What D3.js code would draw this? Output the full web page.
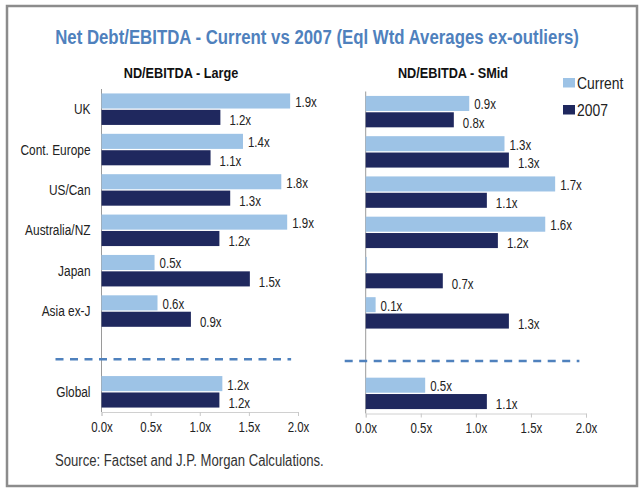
<!DOCTYPE html>
<html>
<head>
<meta charset="utf-8">
<script src="https://cdn.jsdelivr.net/npm/d3@7"></script>
<style>
  body { margin: 0; background: #fff; }
  text { font-family: "Liberation Sans", Arial, sans-serif; }
</style>
</head>
<body>
<div id="chart"></div>
<script>
// data
var categories = ["UK", "Cont. Europe", "US/Can", "Australia/NZ", "Japan", "Asia ex-J", "Global"];
var series = ["Current", "2007"];
var largeCurrent = [1.92, 1.44, 1.83, 1.89, 0.54, 0.57, 1.23];
var large2007    = [1.21, 1.11, 1.31, 1.20, 1.51, 0.91, 1.20];
var smidCurrent  = [0.94, 1.26, 1.72, 1.63, 0.01, 0.09, 0.54];
var smid2007     = [0.80, 1.30, 1.10, 1.20, 0.70, 1.30, 1.10];
var xTicks = [0, 0.5, 1, 1.5, 2];

var colors = { "Current": "#9dc3e6", "2007": "#1f285e" };
var width = 640, height = 490;
var narrow = 0.82; // no Arial Narrow here, so squeeze Liberation Sans

var svg = d3.select("#chart").append("svg")
  .attr("width", width)
  .attr("height", height);

// put a narrowed text at x,y
function ntext(parent, x, y) {
  return parent.append("text")
    .attr("transform", "translate(" + x + "," + y + ") scale(" + narrow + ",1)");
}

// frame
svg.append("rect")
  .attr("x", 7).attr("y", 6)
  .attr("width", 630).attr("height", 480)
  .attr("fill", "#fff")
  .attr("stroke", "#8c8c8c")
  .attr("stroke-width", 2.5);

ntext(svg, 317, 44)
  .attr("text-anchor", "middle")
  .style("font-size", "20.5px")
  .style("font-weight", "bold")
  .attr("fill", "#4f81bd")
  .text("Net Debt/EBITDA - Current vs 2007 (Eql Wtd Averages ex-outliers)");

// band keys with an empty slot before Global for the dashed separator
var bandKeys = categories.slice(0, 6).concat(["gap"], categories.slice(6));

function rows(cur, old) {
  return categories.map(function(c, i) {
    return { cat: c, values: [{ s: "Current", v: cur[i] }, { s: "2007", v: old[i] }] };
  });
}

var panels = [
  { title: "ND/EBITDA - Large", data: rows(largeCurrent, large2007),
    x0: 101.5, x1: 298, y0: 89, y1: 412, titleX: 181, labels: true, dashFrom: 46, dashTo: 1.93 },
  { title: "ND/EBITDA - SMid", data: rows(smidCurrent, smid2007),
    x0: 365.7, x1: 586, y0: 91.5, y1: 413.5, titleX: 453, labels: false, dashFrom: 21, dashTo: 1.94 }
];

var fmt = d3.format(".1f");

panels.forEach(function(p) {
  var x = d3.scaleLinear().domain([0, 2]).range([p.x0, p.x1]);
  var y = d3.scaleBand().domain(bandKeys).range([p.y0, p.y1])
    .paddingInner(0.22).paddingOuter(0.11);
  var ySub = d3.scaleBand().domain(series).range([0, y.bandwidth()]).paddingInner(0.08);

  var g = svg.append("g");

  ntext(g, p.titleX, 78)
    .attr("text-anchor", "middle")
    .style("font-size", "15.5px")
    .style("font-weight", "bold")
    .attr("fill", "#111")
    .text(p.title);

  // x axis: light baseline with small ticks
  var xAxis = g.append("g")
    .attr("transform", "translate(0," + p.y1 + ")")
    .call(d3.axisBottom(x).tickValues(xTicks).tickSize(4)
      .tickFormat(function(d) { return fmt(d) + "x"; }));
  xAxis.select(".domain").attr("stroke", "#d0d0d0");
  xAxis.selectAll(".tick line").attr("stroke", "#c8c8c8");
  xAxis.selectAll(".tick text")
    .attr("y", 0)
    .attr("dy", "0.35em")
    .attr("transform", "translate(0,15) scale(" + narrow + ",1)")
    .style("font-size", "14px")
    .style("font-family", "'Liberation Sans', Arial, sans-serif")
    .attr("fill", "#222");

  // y axis line
  g.append("line")
    .attr("x1", x(0)).attr("x2", x(0))
    .attr("y1", p.y0).attr("y2", p.y1)
    .attr("stroke", "#9a9a9a");

  if (p.labels) {
    categories.forEach(function(c) {
      ntext(g, x(0) - 11, y(c) + y.bandwidth() / 2)
        .attr("dy", "0.35em")
        .attr("text-anchor", "end")
        .style("font-size", "14.5px")
        .attr("fill", "#222")
        .text(c);
    });
  }

  var grp = g.selectAll(".grp")
    .data(p.data)
    .enter().append("g")
    .attr("transform", function(d) { return "translate(0," + y(d.cat) + ")"; });

  grp.selectAll("rect")
    .data(function(d) { return d.values; })
    .enter().append("rect")
    .attr("x", x(0))
    .attr("y", function(d) { return ySub(d.s); })
    .attr("width", function(d) { return x(d.v) - x(0); })
    .attr("height", ySub.bandwidth())
    .attr("fill", function(d) { return colors[d.s]; });

  grp.selectAll(".lbl")
    .data(function(d) { return d.values.filter(function(e) { return e.v >= 0.05; }); })
    .enter().append("text")
    .attr("transform", function(d) {
      var lx = x(d.v) + (d.s == "Current" ? 5 : 9);
      var ly = ySub(d.s) + ySub.bandwidth() / 2 + (d.s == "Current" ? 1 : 3);
      return "translate(" + lx + "," + ly + ") scale(" + narrow + ",1)";
    })
    .attr("dy", "0.35em")
    .style("font-size", "14px")
    .attr("fill", "#222")
    .text(function(d) { return fmt(d.v) + "x"; });

  // dashed separator above Global
  var dy = y("gap") + y.bandwidth() * 0.75;
  g.append("line")
    .attr("x1", x(0) - p.dashFrom).attr("x2", x(p.dashTo))
    .attr("y1", dy).attr("y2", dy)
    .attr("stroke", "#4f81bd")
    .attr("stroke-width", 2.5)
    .attr("stroke-dasharray", "8,6.5");
});

// legend
var legend = svg.append("g")
  .selectAll("g")
  .data(series)
  .enter().append("g")
  .attr("transform", function(d, i) { return "translate(563," + (78 + i * 27) + ")"; });
legend.append("rect")
  .attr("width", 12).attr("height", 9.5)
  .attr("fill", function(d) { return colors[d]; });
legend.append("text")
  .attr("transform", "translate(14,5) scale(" + narrow + ",1)")
  .attr("dy", "0.35em")
  .style("font-size", "17px")
  .attr("fill", "#222")
  .text(function(d) { return d; });

ntext(svg, 55, 460)
  .attr("dy", "0.35em")
  .style("font-size", "16px")
  .attr("fill", "#333")
  .text("Source: Factset and J.P. Morgan Calculations.");
</script>
</body>
</html>
